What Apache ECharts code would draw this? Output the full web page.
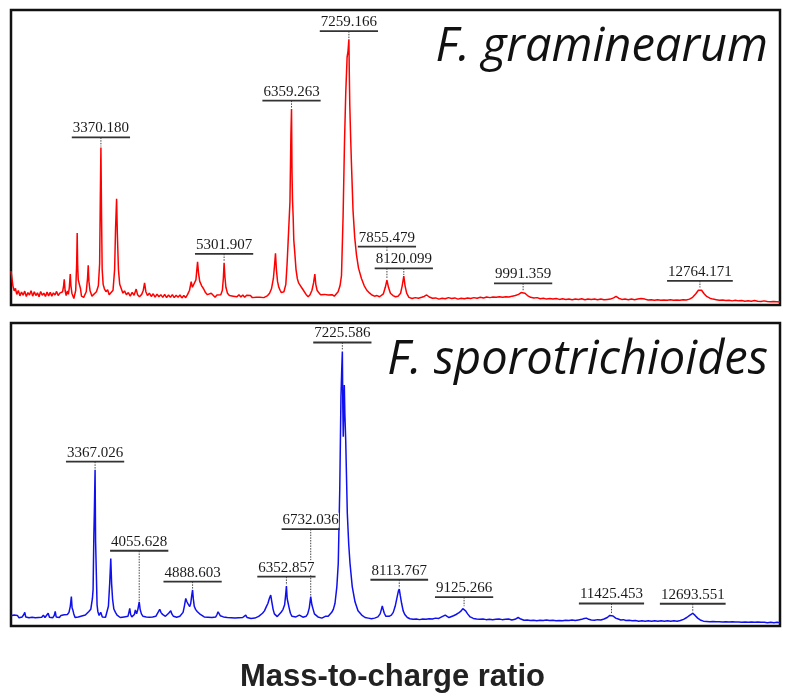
<!DOCTYPE html>
<html>
<head>
<meta charset="utf-8">
<script src="https://cdn.jsdelivr.net/npm/echarts@6/dist/echarts.min.js"></script>
<style>
  html, body { margin: 0; padding: 0; background: #ffffff; }
  #chart { width: 786px; height: 694px; }
</style>
</head>
<body>
<div id="chart"></div>
<script>
// MALDI-TOF spectra: [m/z, relative intensity]
const graminearumSpectrum = [
  [1960, 11.5], [1975, 9.0], [1990, 6.5], [2010, 4.8], [2030, 5.6], [2050, 3.6], [2075, 4.9], [2100, 3.1],
  [2125, 4.4], [2150, 3.3], [2175, 4.7], [2200, 2.9], [2225, 4.2], [2250, 3.4], [2275, 4.8], [2300, 3.0],
  [2325, 4.5], [2350, 3.2], [2375, 4.1], [2400, 2.8], [2425, 4.6], [2450, 3.3], [2475, 4.0], [2500, 2.9],
  [2525, 4.4], [2550, 3.1], [2575, 4.3], [2600, 3.0], [2625, 4.1], [2650, 3.4], [2675, 4.6], [2700, 3.2],
  [2725, 4.0], [2750, 3.6], [2770, 4.5], [2785, 6.5], [2795, 8.7], [2808, 5.0], [2825, 3.2], [2845, 4.8],
  [2860, 3.6], [2875, 6.0], [2889, 10.5], [2900, 6.5], [2915, 4.0], [2946, 2.2], [2975, 5.0], [2990, 14.0],
  [2998, 24.4], [3006, 13.0], [3015, 8.5], [3036, 8.4], [3050, 5.5], [3065, 3.0], [3100, 2.6], [3140, 4.5],
  [3160, 9.0], [3171, 13.5], [3182, 8.0], [3200, 4.8], [3230, 3.0], [3260, 3.5], [3300, 4.5], [3330, 6.5],
  [3350, 14.0], [3360, 35.0], [3370.180, 53.4], [3380, 30.0], [3390, 12.0], [3405, 7.0], [3425, 5.5], [3450, 4.5],
  [3475, 5.2], [3500, 3.5], [3530, 3.0], [3560, 5.0], [3585, 12.0], [3600, 26.0], [3616, 36.0], [3628, 24.0],
  [3645, 12.0], [3665, 7.0], [3690, 5.5], [3715, 4.0], [3740, 4.8], [3770, 3.5], [3800, 4.2], [3830, 3.0],
  [3860, 4.3], [3890, 3.3], [3923, 5.4], [3945, 3.5], [3975, 2.8], [4010, 3.6], [4035, 5.0], [4055, 7.5],
  [4075, 4.5], [4100, 3.2], [4130, 4.0], [4160, 2.9], [4190, 3.8], [4220, 2.7], [4250, 3.7], [4280, 2.8],
  [4310, 3.5], [4340, 2.6], [4370, 3.6], [4400, 2.5], [4430, 3.4], [4460, 2.6], [4490, 3.5], [4520, 2.5],
  [4550, 3.3], [4580, 2.6], [4610, 3.4], [4640, 2.4], [4670, 3.2], [4700, 2.5], [4730, 3.6], [4760, 5.0],
  [4786, 7.9], [4805, 6.0], [4835, 5.5], [4860, 8.5], [4886, 14.6], [4900, 11.0], [4920, 8.0], [4950, 6.5],
  [4980, 5.5], [5010, 4.2], [5040, 3.5], [5070, 3.0], [5100, 4.0], [5130, 3.3], [5160, 2.6], [5190, 3.4],
  [5220, 2.8], [5250, 3.5], [5275, 5.0], [5290, 9.0], [5301.907, 14.3], [5315, 9.5], [5330, 6.0], [5355, 4.0],
  [5385, 3.2], [5415, 3.8], [5445, 3.0], [5475, 3.6], [5505, 2.8], [5535, 3.5], [5565, 2.7], [5595, 3.4],
  [5625, 2.6], [5655, 3.3], [5685, 2.7], [5715, 3.2], [5745, 2.5], [5775, 3.0], [5805, 2.6], [5835, 3.2],
  [5865, 2.6], [5895, 3.0], [5925, 2.5], [5955, 3.0], [5985, 3.2], [6015, 4.0], [6045, 5.5], [6075, 9.0],
  [6095, 14.0], [6108, 17.5], [6122, 12.0], [6140, 8.0], [6160, 6.0], [6180, 5.0], [6200, 4.2], [6220, 3.8],
  [6240, 4.5], [6270, 7.0], [6290, 14.0], [6306, 21.4], [6320, 22.0], [6335, 35.0], [6350, 58.0], [6359.263, 66.4],
  [6367, 45.0], [6375, 35.5], [6385, 30.0], [6395, 22.0], [6411, 17.6], [6430, 12.0], [6450, 9.0], [6470, 7.5],
  [6500, 6.5], [6530, 5.5], [6560, 5.0], [6590, 3.5], [6620, 2.8], [6650, 3.5], [6680, 5.0], [6705, 7.5],
  [6725, 10.5], [6740, 7.0], [6760, 5.0], [6785, 4.2], [6815, 3.5], [6845, 3.0], [6875, 3.6], [6905, 3.0],
  [6935, 3.4], [6965, 2.8], [6995, 3.5], [7030, 3.0], [7060, 3.6], [7090, 4.5], [7120, 6.5], [7143, 10.0],
  [7168, 30.0], [7190, 55.0], [7210, 72.0], [7231, 84.0], [7245, 86.0], [7259.166, 90.1], [7266, 78.0], [7273, 68.0],
  [7285, 58.0], [7299, 48.0], [7324, 32.0], [7350, 23.0], [7378, 17.0], [7410, 12.5], [7456, 9.0], [7500, 6.5],
  [7540, 5.0], [7586, 4.0], [7620, 3.4], [7660, 3.0], [7700, 3.2], [7740, 2.8], [7770, 3.3], [7800, 3.8],
  [7830, 6.0], [7855.479, 8.4], [7880, 6.0], [7910, 4.0], [7950, 3.2], [7990, 2.8], [8030, 3.0], [8070, 4.0],
  [8095, 6.5], [8120.099, 9.8], [8140, 6.5], [8165, 4.0], [8200, 2.6], [8250, 2.2], [8300, 2.5], [8350, 2.3],
  [8400, 2.6], [8440, 2.9], [8479, 3.4], [8520, 2.7], [8570, 2.3], [8620, 2.4], [8670, 2.0], [8720, 2.3],
  [8770, 2.1], [8820, 2.5], [8870, 2.2], [8920, 2.4], [8970, 2.0], [9020, 2.3], [9070, 2.1], [9120, 2.4],
  [9170, 2.2], [9220, 2.5], [9270, 2.3], [9320, 2.6], [9370, 2.4], [9420, 2.7], [9470, 2.5], [9520, 2.7],
  [9570, 2.6], [9620, 2.8], [9670, 2.6], [9720, 2.8], [9770, 2.7], [9820, 3.0], [9870, 3.2], [9920, 3.6],
  [9960, 4.2], [9991.359, 4.5], [10020, 4.0], [10060, 3.2], [10110, 2.6], [10160, 2.4], [10210, 2.5], [10260, 2.1],
  [10310, 2.3], [10360, 2.0], [10410, 2.2], [10460, 2.0], [10510, 2.2], [10560, 1.9], [10610, 2.1], [10660, 1.9],
  [10710, 2.0], [10760, 1.8], [10810, 2.0], [10860, 1.9], [10910, 2.1], [10960, 1.8], [11010, 2.0], [11060, 1.9],
  [11110, 2.0], [11160, 1.8], [11210, 2.0], [11260, 1.8], [11310, 1.9], [11360, 2.0], [11410, 2.4], [11449, 2.9],
  [11490, 2.3], [11540, 1.9], [11590, 2.0], [11640, 1.8], [11690, 2.0], [11740, 1.8], [11790, 2.0], [11840, 2.2],
  [11867, 2.4], [11900, 2.0], [11950, 1.7], [12000, 1.8], [12050, 1.6], [12100, 1.8], [12150, 1.6], [12200, 1.7],
  [12250, 1.6], [12300, 1.8], [12350, 1.6], [12400, 1.7], [12450, 1.6], [12500, 1.8], [12550, 1.7], [12600, 2.0],
  [12650, 2.6], [12700, 3.8], [12740, 5.0], [12764.171, 5.6], [12790, 5.0], [12830, 3.8], [12870, 2.9], [12920, 2.3],
  [12970, 2.0], [13020, 1.8], [13070, 1.6], [13120, 1.7], [13170, 1.5], [13220, 1.6], [13270, 1.4], [13320, 1.6],
  [13370, 1.4], [13420, 1.5], [13470, 1.3], [13520, 1.4], [13570, 1.3], [13620, 1.5], [13670, 1.3], [13720, 1.2],
  [13770, 1.4], [13820, 1.2], [13870, 1.1], [13920, 1.2], [13970, 1.1], [14020, 1.0]
];

const sporotrichioidesSpectrum = [
  [2055, 3.4], [2080, 2.8], [2105, 3.6], [2130, 3.0], [2155, 3.5], [2180, 2.7], [2205, 3.3], [2230, 3.0],
  [2255, 3.8], [2270, 4.5], [2285, 3.0], [2310, 3.4], [2335, 2.7], [2360, 3.2], [2385, 2.9], [2410, 3.5],
  [2435, 2.7], [2460, 3.3], [2485, 2.8], [2510, 3.4], [2535, 2.9], [2560, 3.6], [2585, 2.8], [2610, 3.3],
  [2635, 4.2], [2655, 2.9], [2680, 3.2], [2705, 2.7], [2730, 3.5], [2745, 4.8], [2760, 3.0], [2785, 3.3],
  [2810, 2.8], [2835, 3.5], [2860, 3.1], [2885, 3.7], [2910, 3.2], [2935, 3.8], [2960, 4.5], [2980, 6.5],
  [2997, 9.7], [3008, 6.0], [3020, 5.3], [3035, 4.0], [3055, 2.8], [3080, 2.2], [3105, 3.0], [3130, 2.7],
  [3160, 3.3], [3190, 3.0], [3215, 3.6], [3240, 4.0], [3270, 4.8], [3300, 5.5], [3325, 9.0], [3336, 12.0],
  [3348, 30.0], [3356, 38.0], [3367.026, 51.6], [3375, 28.0], [3387, 17.0], [3398, 7.0], [3410, 4.8], [3430, 3.5],
  [3455, 4.5], [3480, 3.0], [3505, 3.2], [3530, 2.9], [3555, 3.5], [3575, 6.5], [3595, 14.0], [3612, 22.3],
  [3625, 14.0], [3640, 8.9], [3660, 5.6], [3685, 4.5], [3710, 3.6], [3735, 3.0], [3760, 2.8], [3790, 2.6],
  [3820, 3.0], [3850, 2.7], [3880, 3.2], [3895, 4.5], [3908, 5.8], [3922, 3.8], [3940, 3.0], [3960, 2.7],
  [3980, 3.8], [3996, 5.3], [4015, 4.0], [4035, 5.5], [4055.628, 8.0], [4070, 5.5], [4090, 4.0], [4115, 3.2],
  [4140, 2.8], [4165, 3.0], [4190, 2.7], [4215, 2.9], [4240, 2.6], [4265, 3.0], [4290, 2.7], [4315, 3.2],
  [4340, 3.8], [4358, 4.8], [4376, 5.5], [4395, 4.5], [4420, 3.8], [4445, 3.6], [4465, 3.2], [4490, 3.8],
  [4515, 4.2], [4530, 4.6], [4548, 5.0], [4565, 4.0], [4590, 3.2], [4615, 2.8], [4640, 2.9], [4665, 3.0],
  [4690, 3.2], [4715, 3.6], [4740, 4.5], [4760, 6.5], [4782, 9.1], [4800, 8.0], [4820, 7.2], [4844, 6.4],
  [4860, 7.5], [4875, 10.0], [4888.603, 11.9], [4900, 9.0], [4915, 6.5], [4935, 5.5], [4960, 4.8], [4985, 4.2],
  [5010, 3.8], [5040, 3.5], [5070, 3.0], [5100, 2.7], [5130, 2.9], [5160, 2.6], [5190, 2.8], [5220, 2.5],
  [5250, 3.0], [5270, 3.8], [5286, 4.7], [5300, 4.2], [5320, 3.4], [5345, 3.7], [5370, 3.0], [5400, 2.6],
  [5430, 2.8], [5460, 2.5], [5490, 2.7], [5520, 2.4], [5550, 2.6], [5580, 2.4], [5610, 2.7], [5640, 2.5],
  [5670, 2.8], [5695, 3.2], [5718, 3.6], [5740, 2.8], [5770, 2.6], [5800, 2.5], [5830, 2.7], [5860, 2.6],
  [5890, 2.9], [5920, 3.2], [5950, 3.6], [5980, 4.2], [6010, 5.0], [6040, 6.4], [6065, 7.5], [6085, 9.0],
  [6108, 10.2], [6125, 8.0], [6145, 5.5], [6165, 4.0], [6185, 3.4], [6210, 3.1], [6240, 3.6], [6270, 4.5],
  [6300, 5.5], [6325, 7.0], [6340, 10.0], [6352.857, 13.2], [6365, 9.0], [6380, 7.5], [6395, 6.0], [6415, 4.2],
  [6440, 3.2], [6470, 2.8], [6500, 3.0], [6525, 3.4], [6555, 3.6], [6580, 3.2], [6610, 2.9], [6635, 2.7],
  [6660, 3.2], [6685, 4.0], [6710, 6.0], [6732.036, 9.7], [6750, 7.0], [6770, 5.5], [6790, 4.0], [6815, 3.4],
  [6845, 3.0], [6875, 2.8], [6905, 2.6], [6935, 2.8], [6960, 3.2], [6981, 3.6], [7005, 3.2], [7033, 3.6],
  [7060, 4.5], [7085, 5.5], [7111, 7.5], [7140, 13.0], [7162, 20.7], [7185, 45.0], [7204, 75.7], [7215, 84.0],
  [7225.586, 90.6], [7233, 72.0], [7240, 62.5], [7248, 72.0], [7256, 79.5], [7265, 70.0], [7278, 61.4], [7303, 37.2],
  [7325, 27.0], [7345, 20.7], [7380, 13.0], [7423, 8.0], [7470, 5.0], [7528, 3.6], [7580, 2.8], [7630, 2.6],
  [7680, 2.4], [7730, 2.6], [7780, 3.0], [7815, 4.0], [7835, 5.5], [7849, 6.6], [7862, 5.5], [7880, 4.2],
  [7905, 3.2], [7930, 3.0], [7955, 3.2], [7990, 3.6], [8020, 4.5], [8050, 6.5], [8080, 9.5], [8100, 11.5],
  [8113.767, 12.2], [8130, 10.0], [8150, 7.5], [8175, 5.0], [8200, 3.8], [8240, 2.8], [8280, 2.4], [8330, 2.2],
  [8380, 2.3], [8430, 2.1], [8480, 2.3], [8530, 2.2], [8580, 2.4], [8630, 2.3], [8680, 2.6], [8730, 2.5],
  [8775, 3.0], [8800, 3.6], [8831, 3.6], [8860, 3.0], [8890, 2.8], [8920, 3.0], [8960, 3.4], [9000, 3.8],
  [9040, 4.3], [9080, 5.0], [9105, 5.7], [9125.266, 6.2], [9150, 5.0], [9180, 4.0], [9220, 3.0], [9270, 2.5],
  [9320, 2.3], [9370, 2.2], [9420, 2.3], [9470, 2.1], [9520, 2.2], [9570, 2.1], [9620, 2.2], [9670, 2.3],
  [9720, 2.1], [9770, 2.2], [9820, 2.3], [9870, 2.0], [9920, 2.2], [9969, 2.8], [10010, 2.3], [10060, 1.9],
  [10110, 2.0], [10160, 1.8], [10210, 1.9], [10260, 1.7], [10310, 1.9], [10360, 1.8], [10410, 2.0], [10460, 1.8],
  [10510, 1.9], [10560, 1.7], [10610, 1.8], [10660, 1.7], [10710, 1.9], [10760, 1.8], [10810, 2.0], [10860, 1.8],
  [10910, 2.0], [10960, 2.2], [11000, 2.5], [11034, 2.6], [11070, 2.2], [11110, 2.0], [11160, 1.9], [11210, 2.1],
  [11260, 2.0], [11310, 2.3], [11360, 2.8], [11400, 3.5], [11425.453, 3.8], [11450, 3.3], [11490, 2.6], [11530, 2.3],
  [11570, 2.0], [11610, 2.1], [11650, 1.8], [11700, 1.9], [11750, 1.7], [11800, 1.8], [11850, 1.6], [11900, 1.7],
  [11950, 1.6], [12000, 1.7], [12050, 1.6], [12100, 1.7], [12150, 1.6], [12200, 1.7], [12250, 1.6], [12300, 1.7],
  [12350, 1.6], [12400, 1.7], [12450, 1.6], [12500, 1.8], [12550, 2.2], [12600, 2.8], [12650, 3.6], [12693.551, 4.2],
  [12730, 3.5], [12770, 2.6], [12810, 2.0], [12860, 1.6], [12910, 1.5], [12960, 1.4], [13010, 1.5], [13060, 1.4],
  [13110, 1.4], [13160, 1.3], [13210, 1.4], [13260, 1.3], [13310, 1.4], [13360, 1.3], [13410, 1.3], [13460, 1.2],
  [13510, 1.3], [13560, 1.2], [13610, 1.3], [13660, 1.2], [13710, 1.3], [13760, 1.2], [13810, 1.2], [13860, 1.1],
  [13910, 1.2], [13960, 1.1], [14010, 1.2], [14055, 1.1]
];

// Annotated peaks (m/z)
const graminearumPeaks = [3370.180, 5301.907, 6359.263, 7259.166, 7855.479, 8120.099, 9991.359, 12764.171];
const sporotrichioidesPeaks = [3367.026, 4055.628, 4888.603, 6352.857, 6732.036, 7225.586, 8113.767, 9125.266, 11425.453, 12693.551];

const speciesNames = ['F. graminearum', 'F. sporotrichioides'];
const axisTitle = 'Mass-to-charge ratio';

// Height of each label's underline above its peak apex, in pixels
const graminearumLabelLift = [10, 9, 8.5, 8, 33.5, 7.7, 8.4, 7.6];
const sporotrichioidesLabelLift = [8, 51, 8.3, 9.3, 67.4, 9, 9.3, 10, 11, 9.5];

const LABEL_FONT = '15px "Liberation Serif"';
const measureCtx = document.createElement('canvas').getContext('2d');
measureCtx.font = LABEL_FONT;

function peakRows(spectrum, peaks, lifts) {
  return peaks.map(function (mz, i) {
    const hit = spectrum.find(function (p) { return p[0] === mz; });
    return [mz, hit ? hit[1] : 0, lifts[i]];
  });
}

// Dotted leader from the underline down to the peak apex
function tickItem(params, api) {
  const p = api.coord([api.value(0), api.value(1)]);
  const lift = api.value(2);
  return {
    type: 'line',
    shape: { x1: p[0], y1: p[1] - lift, x2: p[0], y2: p[1] - 1 },
    style: { stroke: '#444', lineWidth: 1, lineDash: [1.5, 1.2] }
  };
}

// m/z text with an underline bar
function labelItem(params, api) {
  const mz = api.value(0);
  const p = api.coord([mz, api.value(1)]);
  const uy = p[1] - api.value(2);
  const text = mz.toFixed(3);
  const w = measureCtx.measureText(text).width;
  return {
    type: 'group',
    children: [
      {
        type: 'text',
        x: p[0], y: uy - 1.5,
        style: {
          text: text, font: LABEL_FONT, fill: '#1a1a1a',
          align: 'center', verticalAlign: 'bottom',
          backgroundColor: '#ffffff'
        }
      },
      {
        type: 'line',
        shape: { x1: p[0] - w / 2 - 1, y1: uy, x2: p[0] + w / 2 + 1, y2: uy },
        style: { stroke: '#333', lineWidth: 1.8 }
      }
    ]
  };
}

function annotationSeries(idx, spectrum, peaks, lifts) {
  const rows = peakRows(spectrum, peaks, lifts);
  return [
    { type: 'custom', xAxisIndex: idx, yAxisIndex: idx, coordinateSystem: 'cartesian2d',
      data: rows, renderItem: tickItem, clip: false, silent: true, z: 3 },
    { type: 'custom', xAxisIndex: idx, yAxisIndex: idx, coordinateSystem: 'cartesian2d',
      data: rows, renderItem: labelItem, clip: false, silent: true, z: 4 }
  ];
}

const hiddenAxis = {
  axisLine: { show: false }, axisTick: { show: false },
  axisLabel: { show: false }, splitLine: { show: false }
};

const speciesStyle = {
  fontFamily: '"Open Sans"', fontStyle: 'italic', fontWeight: 'normal',
  fontSize: 47, color: '#111'
};

const chart = echarts.init(document.getElementById('chart'), null, { renderer: 'canvas' });
chart.setOption({
  animation: false,
  backgroundColor: '#ffffff',
  title: [
    { text: speciesNames[0], right: 18, top: 24, padding: 0, textStyle: speciesStyle },
    { text: speciesNames[1], right: 18, top: 337, padding: 0, textStyle: speciesStyle }
  ],
  grid: [
    { left: 11, top: 10, width: 769, height: 295, show: true, borderColor: '#111', borderWidth: 2.5 },
    { left: 11, top: 323, width: 769, height: 304, show: true, borderColor: '#111', borderWidth: 2.5 }
  ],
  xAxis: [
    Object.assign({ type: 'value', gridIndex: 0, min: 1960, max: 14020 }, hiddenAxis),
    Object.assign({ type: 'value', gridIndex: 1, min: 2055, max: 14055,
      name: axisTitle, nameLocation: 'middle', nameGap: 36,
      nameTextStyle: { fontFamily: '"Liberation Sans"', fontWeight: 'bold', fontSize: 31,
        color: '#222', padding: [0, 6, 0, 0] } }, hiddenAxis)
  ],
  yAxis: [
    Object.assign({ type: 'value', gridIndex: 0, min: 0, max: 100 }, hiddenAxis),
    Object.assign({ type: 'value', gridIndex: 1, min: 0, max: 100 }, hiddenAxis)
  ],
  series: [
    { type: 'line', xAxisIndex: 0, yAxisIndex: 0, data: graminearumSpectrum,
      showSymbol: false, lineStyle: { color: '#ff0000', width: 1.5 }, z: 2 },
    { type: 'line', xAxisIndex: 1, yAxisIndex: 1, data: sporotrichioidesSpectrum,
      showSymbol: false, lineStyle: { color: '#1010ee', width: 1.5 }, z: 2 }
  ].concat(
    annotationSeries(0, graminearumSpectrum, graminearumPeaks, graminearumLabelLift),
    annotationSeries(1, sporotrichioidesSpectrum, sporotrichioidesPeaks, sporotrichioidesLabelLift)
  )
});
</script>
</body>
</html>
